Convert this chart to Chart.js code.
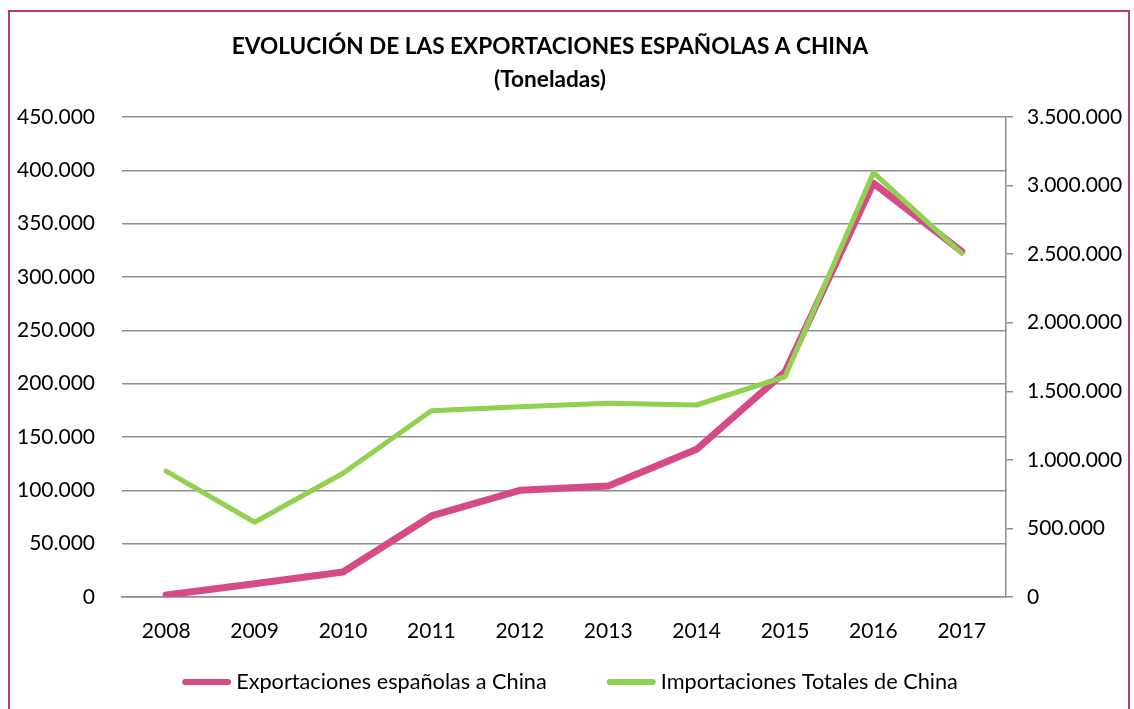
<!DOCTYPE html>
<html>
<head>
<meta charset="utf-8">
<script src="https://cdn.jsdelivr.net/npm/chart.js@4/dist/chart.umd.min.js"></script>
<style>
  html, body { margin: 0; padding: 0; background: #fff; }
  #frame { position: absolute; left: 8px; top: 10px; width: 1118px; height: 720px; border: 2px solid #b83a78; }
  #wrap { position: absolute; left: 0; top: 0; width: 1134px; height: 709px; }
</style>
</head>
<body>
<div id="frame"></div>
<div id="wrap"><canvas id="myChart" width="1134" height="709"></canvas></div>
<script>
// data
const years = ['2008', '2009', '2010', '2011', '2012', '2013', '2014', '2015', '2016', '2017'];
const exportaciones = [1900, 12500, 23500, 76000, 100000, 104000, 138500, 211000, 388000, 324000];
const importaciones = [918000, 545000, 902000, 1358000, 1388000, 1412000, 1400000, 1606000, 3094000, 2506000];
const titleLines = ['EVOLUCIÓN DE LAS EXPORTACIONES ESPAÑOLAS A CHINA', '(Toneladas)'];

const FONT = 'Lato, "Open Sans", sans-serif';
const PINK = '#d64b87';
const GREEN = '#92d050';
const GRID = '#8e8e8e';

function miles(v){
    return String(v).replace(/\B(?=(\d{3})+(?!\d))/g, '.');
}

// title (a bit left of centre) and legend, drawn like the original
const extras = {
    id: 'extras',
    afterDraw(chart){
        const c = chart.ctx;
        c.save();
        c.fillStyle = '#000';
        c.textAlign = 'center';
        c.textBaseline = 'middle';
        c.font = 'bold 22.6px ' + FONT;
        c.fillText(titleLines[0], 550, 47);
        c.fillText(titleLines[1], 550, 80);

        // legend
        c.font = '21.7px ' + FONT;
        c.textAlign = 'left';
        const sample = 49, gap = 5, between = 60, y = 682;
        const items = chart.data.datasets.map(ds => ({
            ds: ds,
            w: sample + gap + c.measureText(ds.label).width
        }));
        let total = items.reduce((s, it) => s + it.w, 0) + between * (items.length - 1);
        let x = chart.width / 2 + 3 - total / 2;
        items.forEach(it => {
            c.strokeStyle = it.ds.borderColor;
            c.lineWidth = 6;
            c.lineCap = 'round';
            c.beginPath();
            c.moveTo(x + 3, y);
            c.lineTo(x + sample - 3, y);
            c.stroke();
            c.fillStyle = '#000';
            c.fillText(it.ds.label, x + sample + gap, y);
            x += it.w + between;
        });
        c.restore();
    }
};

let ctx = document.getElementById('myChart');
let myChart = new Chart(ctx, {
    type: 'line',
    data: {
        labels: years,
        datasets: [
            {
                label: 'Exportaciones españolas a China',
                data: exportaciones,
                yAxisID: 'y',
                borderColor: PINK,
                backgroundColor: PINK,
                borderWidth: 7,
                pointRadius: 0,
                borderCapStyle: 'round',
                borderJoinStyle: 'round',
                order: 1
            },
            {
                label: 'Importaciones Totales de China',
                data: importaciones,
                yAxisID: 'y1',
                borderColor: GREEN,
                backgroundColor: GREEN,
                borderWidth: 5,
                pointRadius: 0,
                borderCapStyle: 'round',
                borderJoinStyle: 'round',
                order: 0
            }
        ]
    },
    options: {
        responsive: false,
        animation: false,
        layout: { padding: { top: 117, left: 0, right: 0, bottom: 48 } },
        plugins: {
            title: { display: false },
            tooltip: { enabled: false },
            legend: { display: false }
        },
        scales: {
            x: {
                offset: true,
                grid: { display: false, drawTicks: false },
                border: { display: true, color: GRID, width: 1.5 },
                ticks: { font: { family: FONT, size: 21 }, color: '#000', padding: 22 },
                afterFit(scale){ scale.height = 64; }
            },
            y: {
                position: 'left',
                min: 0,
                max: 450000,
                grid: { color: GRID, lineWidth: 1.5, drawTicks: false },
                border: { display: false },
                ticks: {
                    stepSize: 50000,
                    font: { family: FONT, size: 21 },
                    color: '#000',
                    padding: 27,
                    callback: v => miles(v)
                },
                afterFit(scale){ scale.width = 122; }
            },
            y1: {
                position: 'right',
                min: 0,
                max: 3500000,
                grid: { drawOnChartArea: false, color: GRID, lineWidth: 1.5, tickLength: 7 },
                border: { display: true, color: GRID, width: 1.5 },
                ticks: {
                    stepSize: 500000,
                    font: { family: FONT, size: 21 },
                    color: '#000',
                    padding: 14,
                    callback: v => miles(v)
                },
                afterFit(scale){ scale.width = 128; }
            }
        }
    },
    plugins: [extras]
});
</script>
</body>
</html>
